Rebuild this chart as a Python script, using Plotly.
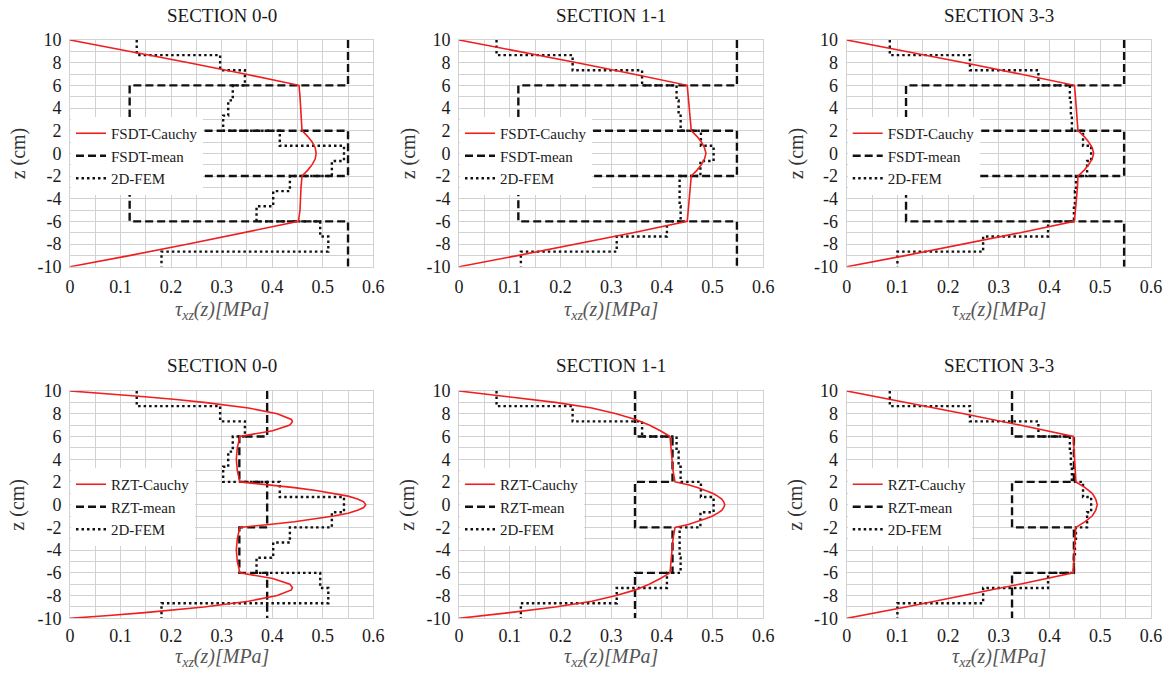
import plotly.graph_objects as go

FONT = "Liberation Serif, Times New Roman, Times, serif"
W, H = 1165, 673

# ---------------- data ----------------
section_titles = ["SECTION 0-0", "SECTION 1-1", "SECTION 3-3"]
x_tick_vals = [0, 0.1, 0.2, 0.3, 0.4, 0.5, 0.6]
x_tick_text = ["0", "0.1", "0.2", "0.3", "0.4", "0.5", "0.6"]
y_tick_vals = [10, 8, 6, 4, 2, 0, -2, -4, -6, -8, -10]
y_tick_text = ["10", "8", "6", "4", "2", "0", "-2", "-4", "-6", "-8", "-10"]

# layer tops (z, cm) for the piecewise-constant "mean" profiles (last = bottom)
layer_edges = [10, 6, 2, -2, -6, -10]
# 2D-FEM element tops (last = bottom)
fem_edges = [10, 8.67, 7.33, 6, 4.67, 3.33, 2, 0.67, -0.67, -2, -3.33, -4.67, -6, -7.33, -8.67, -10]

# 2D-FEM element values (MPa), top to bottom
fem_00 = [0.132, 0.297, 0.346, 0.322, 0.313, 0.303, 0.415, 0.542, 0.518, 0.435, 0.402, 0.369, 0.495, 0.511, 0.181]
fem_11 = [0.074, 0.224, 0.361, 0.429, 0.433, 0.437, 0.477, 0.502, 0.476, 0.435, 0.435, 0.437, 0.410, 0.311, 0.122]
fem_33 = [0.085, 0.243, 0.378, 0.440, 0.442, 0.444, 0.466, 0.482, 0.474, 0.452, 0.450, 0.448, 0.397, 0.269, 0.100]

# mean (layer-wise) values, top to bottom
fsdt_mean_00 = [0.550, 0.118, 0.550, 0.118, 0.550]
fsdt_mean_11 = [0.548, 0.117, 0.548, 0.117, 0.548]
fsdt_mean_33 = [0.547, 0.117, 0.547, 0.117, 0.547]
rzt_mean_00 = [0.390, 0.335, 0.390, 0.335, 0.390]
rzt_mean_11 = [0.347, 0.421, 0.347, 0.421, 0.347]
rzt_mean_33 = [0.326, 0.448, 0.326, 0.448, 0.326]

# Cauchy profiles
fsdt_z = [10, 9, 8, 7, 6, 5, 4, 3, 2, 1.5, 1, 0.5, 0, -0.5, -1, -1.5, -2, -3, -4, -5, -6, -7, -8, -9, -10]
fsdt_cauchy_00 = [0, 0.120, 0.235, 0.346, 0.453, 0.455, 0.456, 0.457, 0.459, 0.470, 0.479, 0.485, 0.487,
                  0.485, 0.479, 0.470, 0.459, 0.457, 0.456, 0.455, 0.452, 0.345, 0.234, 0.120, 0]
fsdt_cauchy_11 = [0, 0.118, 0.233, 0.343, 0.450, 0.452, 0.454, 0.456, 0.458, 0.469, 0.478, 0.484, 0.487,
                  0.484, 0.478, 0.469, 0.458, 0.456, 0.454, 0.452, 0.450, 0.343, 0.233, 0.118, 0]
fsdt_cauchy_33 = [0, 0.118, 0.232, 0.342, 0.449, 0.451, 0.453, 0.455, 0.456, 0.468, 0.477, 0.484, 0.487,
                  0.484, 0.477, 0.468, 0.456, 0.455, 0.453, 0.451, 0.449, 0.342, 0.232, 0.118, 0]

rzt_z_00 = [10, 9.75, 9.5, 9.25, 9, 8.5, 8, 7.5, 7.3, 7, 6.5, 6, 5, 4, 3, 2,
            1.75, 1.5, 1.25, 1, 0.75, 0.5, 0.25, 0, -0.25, -0.5, -0.75, -1, -1.25, -1.5, -1.75,
            -2, -3, -4, -5, -6, -6.5, -7, -7.3, -7.5, -8, -8.5, -9, -9.25, -9.5, -9.75, -10]
rzt_cauchy_00 = [0, 0.077, 0.148, 0.210, 0.265, 0.353, 0.410, 0.438, 0.440, 0.435, 0.401, 0.336,
                 0.331, 0.329, 0.331, 0.336,
                 0.394, 0.444, 0.487, 0.522, 0.550, 0.569, 0.581, 0.585, 0.581, 0.569, 0.550, 0.522, 0.487, 0.444, 0.394,
                 0.336, 0.331, 0.329, 0.331,
                 0.336, 0.401, 0.435, 0.440, 0.438, 0.410, 0.353, 0.265, 0.210, 0.148, 0.077, 0]

rzt_z_11 = [10, 9.5, 9, 8.5, 8, 7.5, 7, 6.5, 6, 5, 4, 3, 2,
            1.75, 1.5, 1.25, 1, 0.75, 0.5, 0.25, 0, -0.25, -0.5, -0.75, -1, -1.25, -1.5, -1.75,
            -2, -3, -4, -5, -6, -6.5, -7, -7.5, -8, -8.5, -9, -9.5, -10]
rzt_cauchy_11 = [0, 0.100, 0.190, 0.262, 0.310, 0.348, 0.375, 0.397, 0.416, 0.418, 0.420, 0.422, 0.426,
                 0.452, 0.470, 0.486, 0.500, 0.510, 0.518, 0.522, 0.524, 0.522, 0.518, 0.510, 0.500, 0.486, 0.470, 0.452,
                 0.426, 0.422, 0.420, 0.418, 0.416, 0.397, 0.375, 0.348, 0.310, 0.262, 0.190, 0.100, 0]

rzt_z_33 = fsdt_z
rzt_cauchy_33 = [0, 0.117, 0.231, 0.341, 0.447, 0.448, 0.449, 0.450, 0.452, 0.470, 0.484, 0.491, 0.494,
                 0.491, 0.484, 0.470, 0.452, 0.450, 0.449, 0.448, 0.447, 0.341, 0.231, 0.117, 0]

panels = [
    # (row, col, label, cauchy z, cauchy x, mean, fem)
    (0, 0, "FSDT", fsdt_z, fsdt_cauchy_00, fsdt_mean_00, fem_00),
    (0, 1, "FSDT", fsdt_z, fsdt_cauchy_11, fsdt_mean_11, fem_11),
    (0, 2, "FSDT", fsdt_z, fsdt_cauchy_33, fsdt_mean_33, fem_33),
    (1, 0, "RZT", rzt_z_00, rzt_cauchy_00, rzt_mean_00, fem_00),
    (1, 1, "RZT", rzt_z_11, rzt_cauchy_11, rzt_mean_11, fem_11),
    (1, 2, "RZT", rzt_z_33, rzt_cauchy_33, rzt_mean_33, fem_33),
]

# ---------------- layout geometry (pixels) ----------------
col_x = [(70, 373.3), (459, 763.3), (846.7, 1151)]
row_y = [(40, 266.7), (391, 618.3)]
xtitle_off = [44, 39.5]
xtick_len = [4, 1]
ytitle_x = [18, 408, 796]


def px(x):
    return x / W


def py(y):
    return 1 - y / H


RED = "#f01e1e"
BLACK = "#111111"
GRID = "#d2d2d2"
TXT = "#1a1a1a"

fig = go.Figure()
layout = dict(
    width=W, height=H, margin=dict(l=0, r=0, t=0, b=0, autoexpand=False),
    paper_bgcolor="white", plot_bgcolor="white",
    font=dict(family=FONT, color=TXT, size=18),
    showlegend=True,
)
annotations = []

for i, (r, c, lab, cz, cx, mean, fem) in enumerate(panels):
    k = i + 1
    xa = "x" if k == 1 else f"x{k}"
    ya = "y" if k == 1 else f"y{k}"
    lg = "legend" if k == 1 else f"legend{k}"

    # 2D-FEM step profile
    fig.add_trace(go.Scatter(
        x=fem + [fem[-1]], y=fem_edges, mode="lines", line_shape="vh",
        line=dict(color=BLACK, width=2.4, dash="2.5px,3px"),
        name="2D-FEM", xaxis=xa, yaxis=ya, legend=lg, legendrank=3, hoverinfo="skip"))
    # mean step profile
    fig.add_trace(go.Scatter(
        x=mean + [mean[-1]], y=layer_edges, mode="lines", line_shape="vh",
        line=dict(color=BLACK, width=2.4, dash="8px,4px"),
        name=f"{lab}-mean", xaxis=xa, yaxis=ya, legend=lg, legendrank=2, hoverinfo="skip"))
    # Cauchy profile
    fig.add_trace(go.Scatter(
        x=cx, y=cz, mode="lines",
        line=dict(color=RED, width=1.6),
        name=f"{lab}-Cauchy", xaxis=xa, yaxis=ya, legend=lg, legendrank=1, hoverinfo="skip"))

    x0, x1 = col_x[c]
    ytop, ybot = row_y[r]
    axis_common = dict(
        showgrid=True, gridcolor=GRID, gridwidth=1, zeroline=False,
        showline=True, linecolor=GRID, linewidth=1, mirror=True,
        ticks="outside", tickcolor="rgba(0,0,0,0)",
        tickfont=dict(family=FONT, size=18, color=TXT),
    )
    layout["xaxis" if k == 1 else f"xaxis{k}"] = dict(
        axis_common, domain=[px(x0), px(x1)], range=[0, 0.6], anchor=ya, ticklen=xtick_len[r],
        tickmode="array", tickvals=x_tick_vals, ticktext=x_tick_text,
        minor=dict(dtick=0.05, tick0=0, showgrid=True, gridcolor=GRID, gridwidth=1),
    )
    layout["yaxis" if k == 1 else f"yaxis{k}"] = dict(
        axis_common, domain=[py(ybot), py(ytop)], range=[-10, 10], anchor=xa, ticklen=4,
        tickmode="array", tickvals=y_tick_vals, ticktext=y_tick_text,
        minor=dict(dtick=1, tick0=0, showgrid=True, gridcolor=GRID, gridwidth=1),
    )
    layout[lg] = dict(
        x=px(x0 + 1), y=py(ytop + 77), xanchor="left", yanchor="top",
        xref="paper", yref="paper",
        bgcolor="white", borderwidth=0, tracegroupgap=0, itemwidth=30,
        font=dict(family=FONT, size=15, color=TXT), traceorder="normal",
    )

    cxm = (x0 + x1) / 2
    annotations.append(dict(
        text=section_titles[c], x=px(cxm), y=py(ytop - 25), xref="paper", yref="paper",
        xanchor="center", yanchor="middle", showarrow=False,
        font=dict(family=FONT, size=19, color=TXT)))
    annotations.append(dict(
        text="<i>τ<sub>xz</sub>(z)[MPa]</i>", x=px(cxm), y=py(ybot + xtitle_off[r]),
        xref="paper", yref="paper", xanchor="center", yanchor="middle", showarrow=False,
        font=dict(family=FONT, size=20, color="#555555")))
    annotations.append(dict(
        text="z (cm)", x=px(ytitle_x[c]), y=py((ytop + ybot) / 2), xref="paper", yref="paper",
        xanchor="center", yanchor="middle", showarrow=False, textangle=-90,
        font=dict(family=FONT, size=20, color="#333333")))

layout["annotations"] = annotations
fig.update_layout(**layout)
fig.write_html("out.html", post_script="document.body.style.margin='0';")
